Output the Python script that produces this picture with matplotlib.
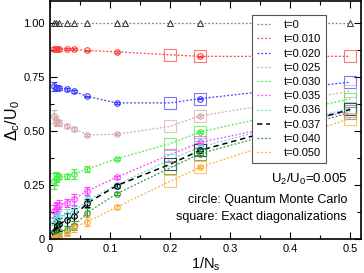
import numpy as np
import matplotlib
matplotlib.use("Agg")
import matplotlib.pyplot as plt
from matplotlib.ticker import MultipleLocator, FixedLocator

plt.rcParams['font.family'] = ['Liberation Sans', 'DejaVu Sans']
plt.rcParams['mathtext.fontset'] = 'custom'
plt.rcParams['mathtext.rm'] = 'Liberation Sans'
plt.rcParams['mathtext.it'] = 'Liberation Sans'

# 1/N_s positions
x_qmc = [1/144, 1/100, 1/81, 1/64, 1/36, 1/25, 1/16, 1/9, 1/4]
x_ed = [1/5, 1/4, 1/2]
x_t0 = [1/144, 1/100, 1/64, 1/36, 1/25, 1/16, 1/9, 1/8, 1/5, 1/4, 1/2]
y_t0 = [1.0] * len(x_t0)

labels = ['t=0.010', 't=0.020', 't=0.025', 't=0.030', 't=0.035',
          't=0.036', 't=0.037', 't=0.040', 't=0.050']
colors = ['#ff4040', '#4040ff', '#d4aaaa', '#44ee44', '#ff44ff',
          '#66dddd', '#000000', '#339933', '#ffaa33']

# QMC values (circles), last one at 1/N_s = 0.25
qmc = [
    [0.880, 0.878, 0.878, 0.877, 0.878, 0.877, 0.872, 0.866, 0.845],
    [0.707, 0.700, 0.700, 0.698, 0.692, 0.683, 0.660, 0.630, 0.650],
    [0.568, 0.550, 0.540, 0.537, 0.522, 0.510, 0.483, 0.485, 0.570],
    [0.270, 0.280, 0.285, 0.290, 0.291, 0.302, 0.325, 0.372, 0.496],
    [0.130, 0.140, 0.150, 0.160, 0.168, 0.185, 0.224, 0.287, 0.448],
    [0.075, 0.085, 0.095, 0.105, 0.115, 0.130, 0.180, 0.252, 0.427],
    [0.035, 0.045, 0.060, 0.070, 0.090, 0.108, 0.168, 0.248, 0.411],
    [0.010, 0.015, 0.025, 0.040, 0.042, 0.063, 0.124, 0.211, 0.396],
    [0.005, 0.007, 0.010, 0.015, 0.030, 0.056, 0.082, 0.149, 0.334],
]
qmc_err = [
    [0.010, 0.008, 0.006, 0.006, 0.005, 0.005, 0.004, 0.004, 0.003],
    [0.020, 0.012, 0.010, 0.008, 0.006, 0.005, 0.004, 0.004, 0.003],
    [0.030, 0.020, 0.015, 0.012, 0.010, 0.008, 0.005, 0.004, 0.003],
    [0.035, 0.030, 0.020, 0.012, 0.010, 0.025, 0.012, 0.006, 0.005],
    [0.030, 0.030, 0.025, 0.020, 0.020, 0.025, 0.020, 0.008, 0.005],
    [0.030, 0.030, 0.025, 0.025, 0.025, 0.025, 0.020, 0.010, 0.005],
    [0.040, 0.040, 0.035, 0.030, 0.030, 0.035, 0.020, 0.010, 0.005],
    [0.020, 0.020, 0.020, 0.025, 0.020, 0.020, 0.020, 0.008, 0.005],
    [0.010, 0.010, 0.010, 0.010, 0.015, 0.020, 0.020, 0.008, 0.005],
]
# exact diagonalization values (squares) at x_ed
ed = [
    [0.852, 0.845, 0.845],
    [0.630, 0.650, 0.726],
    [0.522, 0.570, 0.684],
    [0.442, 0.496, 0.649],
    [0.391, 0.448, 0.592],
    [0.368, 0.427, 0.607],
    [0.347, 0.411, 0.600],
    [0.330, 0.396, 0.585],
    [0.268, 0.334, 0.558],
]

fig = plt.figure(figsize=(3.64, 2.73), dpi=100)
ax = fig.add_axes([0.137, 0.123, 0.855, 0.873])

ax.plot(x_t0, y_t0, ls=(0, (1.5, 1.5)), color='#888888', lw=0.9, label='t=0')
ax.plot(x_t0, y_t0, ls='none', marker='^', ms=5, mfc='none', mec='#333333', mew=0.7)

for i in range(len(labels)):
    xs = x_qmc[:-1] + x_ed
    ys = qmc[i][:-1] + ed[i]
    if labels[i] == 't=0.037':
        ls, lw = (0, (3.5, 2.5)), 1.1
    else:
        ls, lw = (0, (1.5, 1.5)), 0.9
    ax.plot(xs, ys, ls=ls, lw=lw, color=colors[i], label=labels[i])
    ax.errorbar(x_qmc, qmc[i], yerr=qmc_err[i], fmt='o', ms=4, mfc='none',
                mec=colors[i], mew=0.8, ecolor=colors[i], elinewidth=0.8,
                capsize=2.5, capthick=0.8)
    ax.plot(x_ed, ed[i], ls='none', marker='s', ms=9, mfc='none',
            mec=colors[i], mew=0.8, alpha=0.7)

ax.set_xlim(0, 0.518)
ax.set_ylim(0, 1.1)
ax.xaxis.set_major_locator(FixedLocator([0, 0.1, 0.2, 0.3, 0.4, 0.5]))
ax.set_xticklabels(['0', '0.1', '0.2', '0.3', '0.4', '0.5'])
ax.xaxis.set_minor_locator(MultipleLocator(0.05))
ax.yaxis.set_major_locator(FixedLocator([0, 0.25, 0.5, 0.75, 1.0]))
ax.set_yticklabels(['0', '0.25', '0.50', '0.75', '1.00'])
ax.yaxis.set_minor_locator(MultipleLocator(0.125))
ax.tick_params(which='both', direction='in', top=True, right=True,
               labelsize=8, width=0.8)
ax.tick_params(which='major', length=5)
ax.tick_params(which='minor', length=3)
for s in ax.spines.values():
    s.set_linewidth(1.2)

ax.set_xlabel(r'1/N$_\mathregular{s}$', fontsize=10.5, labelpad=1)
ax.set_ylabel(r'$\Delta_\mathregular{c}$/U$_\mathregular{0}$', fontsize=11.5, labelpad=1)

leg = ax.legend(loc='upper right', bbox_to_anchor=(0.887, 0.941), fontsize=8,
                handlelength=1.2, handletextpad=1.2, labelspacing=0.38,
                borderpad=0.45, borderaxespad=0, fancybox=False,
                edgecolor='#555555', framealpha=1)
leg.get_frame().set_linewidth(0.8)

ax.text(0.955, 0.25, r'U$_\mathregular{2}$/U$_\mathregular{0}$=0.005',
        transform=ax.transAxes, ha='right', va='center', fontsize=9.5)
ax.text(0.955, 0.166, 'circle: Quantum Monte Carlo',
        transform=ax.transAxes, ha='right', va='center', fontsize=9)
ax.text(0.955, 0.096, 'square: Exact diagonalizations',
        transform=ax.transAxes, ha='right', va='center', fontsize=9)

fig.savefig('out.png', dpi=100)
